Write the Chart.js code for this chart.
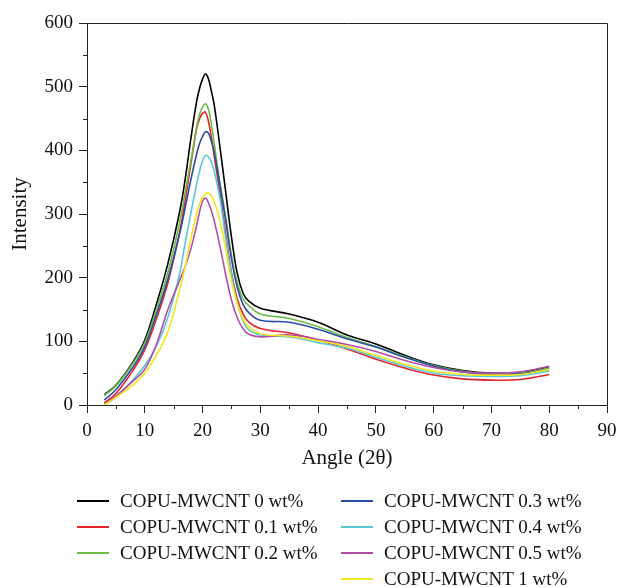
<!DOCTYPE html>
<html lang="en">
<head>
    <meta charset="UTF-8">
    <title>XRD Intensity - COPU-MWCNT</title>
    <script src="https://cdn.jsdelivr.net/npm/chart.js"></script>
    <style>
        html, body { margin: 0; padding: 0; background: #fff; }
        #wrap { position: relative; width: 631px; height: 587px; }
        #legend {
            position: absolute; left: 0; top: 0; width: 631px; height: 587px;
            font-family: 'Liberation Serif', 'Times New Roman', serif; font-size: 19px; color: #111;
            pointer-events: none;
        }
        .item { position: absolute; height: 26px; line-height: 26px; white-space: nowrap; }
        .item .swatch { position: absolute; left: 0; top: 12px; width: 32px; height: 2px; }
        .item .txt { position: absolute; left: 43px; top: 0; }
    </style>
</head>
<body>
<div id="wrap">
    <canvas id="xrdChart" width="631" height="587"></canvas>
    <div id="legend"></div>
</div>

<script>
    // 2-theta positions (shared by every series)
    const angles = [3, 5, 8, 10, 12, 14, 16, 17, 18, 19, 19.5, 20, 20.5, 21, 21.5, 22, 23, 24, 25, 26, 27, 28, 30, 35, 40, 45, 50, 55, 60, 65, 70, 75, 80];

    const labels = ['COPU-MWCNT 0 wt%', 'COPU-MWCNT 0.1 wt%', 'COPU-MWCNT 0.2 wt%', 'COPU-MWCNT 0.3 wt%',
                    'COPU-MWCNT 0.4 wt%', 'COPU-MWCNT 0.5 wt%', 'COPU-MWCNT 1 wt%'];
    const colors = ['#000000', '#e3242b', '#6cbd45', '#2a4ea6', '#5cc6d9', '#b04fa6', '#f0e61c'];

    const wt0   = [16, 31, 68, 102, 158, 222, 302, 355, 420, 478, 498, 512, 520, 513, 494, 472, 406, 335, 264, 207, 176, 163, 152, 143, 130, 110, 96, 78, 63, 54, 50, 51, 60];
    const wt01  = [3, 18, 55, 87, 135, 192, 270, 322, 380, 435, 450, 458, 460, 446, 422, 392, 333, 270, 208, 167, 143, 130, 120, 113, 102, 88, 72, 58, 47, 41, 39, 40, 48];
    const wt02  = [15, 30, 66, 98, 150, 208, 285, 335, 385, 438, 457, 468, 473, 465, 442, 412, 350, 296, 235, 192, 167, 156, 143, 136, 123, 106, 92, 76, 62, 53, 49, 50, 58];
    const wt03  = [8, 24, 60, 92, 142, 198, 268, 310, 355, 395, 411, 422, 429, 427, 415, 398, 345, 290, 230, 185, 158, 145, 133, 130, 119, 104, 91, 75, 61, 52, 48, 49, 56];
    const wt04  = [0, 12, 40, 62, 92, 138, 205, 255, 302, 348, 368, 384, 392, 390, 382, 368, 325, 262, 205, 160, 132, 118, 110, 107, 98, 89, 75, 61, 50, 46, 45, 46, 53];
    const wt05  = [1, 14, 38, 56, 95, 150, 195, 218, 246, 283, 304, 320, 325, 318, 306, 290, 250, 205, 165, 137, 120, 111, 107, 110, 103, 95, 84, 70, 59, 52, 50, 52, 61];
    const wt1   = [0, 12, 32, 50, 78, 115, 180, 218, 262, 302, 316, 326, 332, 333, 329, 320, 290, 245, 195, 160, 135, 123, 112, 108, 101, 92, 78, 64, 53, 48, 47, 48, 56];

    const series = [wt0, wt01, wt02, wt03, wt04, wt05, wt1];

    const font = "'Liberation Serif', 'Times New Roman', serif";

    // short minor ticks + box frame
    const frame = {
        id: 'frame',
        afterDraw(chart) {
            const { ctx, chartArea: a, scales: { x, y } } = chart;
            ctx.save();
            ctx.strokeStyle = '#222';
            ctx.lineWidth = 1;
            ctx.beginPath();
            ctx.moveTo(a.left, a.top + 0.5);
            ctx.lineTo(a.right + 0.5, a.top + 0.5);
            ctx.lineTo(a.right + 0.5, a.bottom);
            for (let v = 5; v < 90; v += 10) {
                const px = Math.round(x.getPixelForValue(v)) + 0.5;
                ctx.moveTo(px, a.bottom);
                ctx.lineTo(px, a.bottom + 4);
            }
            for (let v = 50; v < 600; v += 100) {
                const py = Math.round(y.getPixelForValue(v)) + 0.5;
                ctx.moveTo(a.left, py);
                ctx.lineTo(a.left - 4, py);
            }
            ctx.stroke();
            ctx.restore();
        }
    };

    new Chart(document.getElementById('xrdChart'), {
        type: 'line',
        data: {
            datasets: series.map((s, i) => ({
                label: labels[i],
                data: s.map((v, k) => ({ x: angles[k], y: v })),
                borderColor: colors[i],
                borderWidth: 1.6,
                pointRadius: 0,
                fill: false,
                tension: 0.4
            })).reverse()
        },
        plugins: [frame],
        options: {
            responsive: false,
            animation: false,
            layout: { padding: { left: 0, top: 23, right: 24, bottom: 112 } },
            plugins: { legend: { display: false }, tooltip: { enabled: false } },
            scales: {
                x: {
                    type: 'linear',
                    min: 0, max: 90,
                    ticks: { stepSize: 10, color: '#111', font: { family: font, size: 19 }, padding: 7, maxRotation: 0 },
                    grid: { drawOnChartArea: false, tickLength: 8, color: '#222' },
                    border: { color: '#222', width: 1 },
                    title: { display: true, text: 'Angle (2θ)', color: '#111', font: { family: font, size: 21 }, padding: { top: 8 } },
                    afterFit(scale) { scale.height = 70; }
                },
                y: {
                    min: 0, max: 600,
                    ticks: { stepSize: 100, color: '#111', font: { family: font, size: 19 }, padding: 6 },
                    grid: { drawOnChartArea: false, tickLength: 8, color: '#222' },
                    border: { color: '#222', width: 1 },
                    title: { display: true, text: 'Intensity', color: '#111', font: { family: font, size: 21 }, padding: { top: 8, bottom: 0 } },
                    afterFit(scale) { scale.width = 87; }
                }
            }
        }
    });

    // two-column legend below the plot
    const legendBox = document.getElementById('legend');
    const cols = [[0, 1, 2], [3, 4, 5, 6]];
    const colX = [77, 341];
    cols.forEach((col, c) => {
        col.forEach((idx, r) => {
            const div = document.createElement('div');
            div.className = 'item';
            div.style.left = colX[c] + 'px';
            div.style.top = (488 + r * 26) + 'px';
            div.innerHTML = '<span class="swatch" style="background:' + colors[idx] + '"></span><span class="txt">' + labels[idx] + '</span>';
            legendBox.appendChild(div);
        });
    });
</script>
</body>
</html>
